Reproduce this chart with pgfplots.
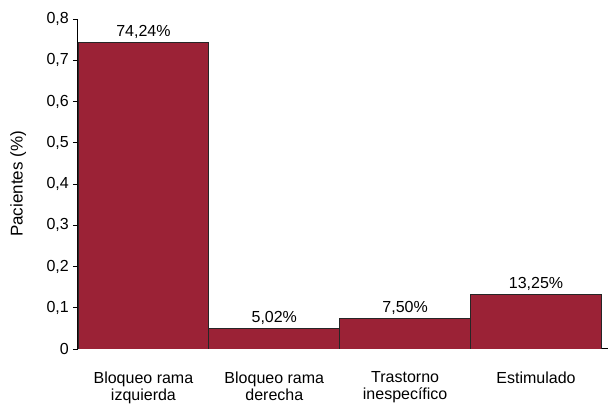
\documentclass[border=0pt]{standalone}
\usepackage{pgfplots}
\pgfplotsset{compat=1.18}
\usepackage{fontspec}
\setmainfont{Liberation Sans}
\definecolor{barred}{RGB}{155,34,54}
\begin{document}
\begin{tikzpicture}
\begin{axis}[
  name=ax,
  scale only axis,
  width=530pt, height=330pt,
  xmin=-0.5, xmax=3.55,
  ymin=0, ymax=0.8,
  axis x line*=bottom,
  axis y line*=left,
  axis line style={line width=1pt, -},
  ytick={0,0.1,0.2,0.3,0.4,0.5,0.6,0.7,0.8},
  /pgf/number format/use comma,
  /pgf/number format/fixed,
  /pgf/number format/precision=1,
  /pgf/number format/assume math mode=true,
  tick style={black, line width=0.8pt},
  tick align=outside,
  major tick length=5pt,
  xtick={0,1,2,3},
  xticklabels={Bloqueo rama\\izquierda, Bloqueo rama\\derecha, Trastorno\\inespecífico, Estimulado},
  xtick style={draw=none},
  xticklabel style={align=center, anchor=north, yshift=-14pt, font=\fontsize{16}{17}\selectfont},
  yticklabel style={font=\fontsize{16}{18}\selectfont, inner sep=2pt, xshift=-2pt},
  ylabel={Pacientes (\%)},
  ylabel style={font=\fontsize{17}{19}\selectfont, at={(axis description cs:-0.113,0.5)}, anchor=center},
  ybar, bar width=1, bar shift=0pt,
  point meta=explicit symbolic,
  nodes near coords,
  nodes near coords style={font=\fontsize{16}{18}\selectfont, black, anchor=south},
]
\addplot[fill=barred, draw=black!85, line width=0.8pt] coordinates {
  (0,0.7424) [74,24\%]
  (1,0.0502) [5,02\%]
  (2,0.0750) [7,50\%]
  (3,0.1325) [13,25\%]
};
\end{axis}
\pgfresetboundingbox
\path ([shift={(-78pt,-56pt)}]ax.south west) rectangle ([shift={(3pt,19pt)}]ax.north east);
\end{tikzpicture}
\end{document}
